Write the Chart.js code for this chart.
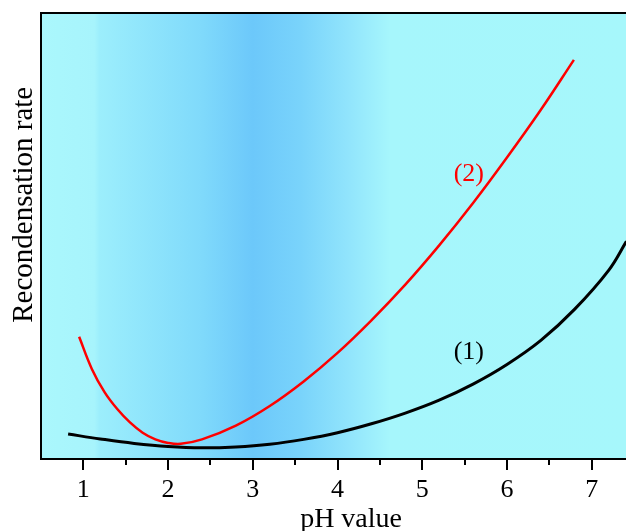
<!DOCTYPE html>
<html><head><meta charset="utf-8">
<script src="https://cdn.jsdelivr.net/npm/chart.js@4"></script>
<style>html,body{margin:0;padding:0;background:#fff;overflow:hidden}</style>
</head><body>
<canvas id="c" width="626" height="531"></canvas>
<script>
// ---- data ----
const phCurve1 = [0.82, 1.2, 1.6, 2.0, 2.4, 2.8, 3.2, 3.6, 4.0, 4.4, 4.8, 5.2, 5.6, 6.0, 6.4, 6.8, 7.2, 7.41];
const rateCurve1 = [5.6, 4.5, 3.5, 2.8, 2.5, 2.7, 3.3, 4.4, 5.9, 7.9, 10.3, 13.2, 16.8, 21.2, 26.6, 33.6, 42.3, 48.8];
const phCurve2 = [0.95, 1.1, 1.25, 1.4, 1.55, 1.7, 1.85, 2.0, 2.15, 2.4, 2.8, 3.2, 3.6, 4.0, 4.4, 4.8, 5.2, 5.6, 6.0, 6.4, 6.79];
const rateCurve2 = [27.4, 20.2, 15.0, 11.2, 8.2, 5.9, 4.4, 3.6, 3.4, 4.4, 7.5, 11.9, 17.4, 23.8, 31.1, 39.1, 47.9, 57.4, 67.6, 78.3, 89.5];
const xTickLabels = [1, 2, 3, 4, 5, 6, 7];
const curveLabels = ['(1)', '(2)'];
const xTitle = 'pH value';
const yTitle = 'Recondensation rate';

const FONT = '"Liberation Serif", "Times New Roman", serif';

const toPts = (xs, ys) => xs.map((x, i) => ({x, y: ys[i]}));

const decor = {
  id: 'decor',
  beforeDatasetsDraw(chart) {
    const {ctx, chartArea: a, scales: {x}} = chart;
    const g = ctx.createLinearGradient(a.left, 0, a.right, 0);
    const stops = [[0.5,'#aaf7fc'],[1.13,'#a7f4fc'],[1.19,'#9ceefc'],[2.38,'#80dafb'],[3.0,'#6cc8fa'],[3.56,'#79d3fb'],[4.15,'#92e5fc'],[4.62,'#a6f6fc'],[7.41,'#a6f7fb']];
    const w = a.right - a.left;
    stops.forEach(([v, c]) => {
      const f = Math.min(1, Math.max(0, (x.getPixelForValue(v) - a.left) / w));
      g.addColorStop(f, c);
    });
    ctx.save();
    ctx.fillStyle = g;
    ctx.fillRect(a.left, a.top, w, a.bottom - a.top);
    ctx.restore();
  },
  afterDraw(chart) {
    const {ctx, chartArea: a, scales: {x, y}} = chart;
    ctx.save();
    ctx.strokeStyle = '#000';
    ctx.lineWidth = 2;
    ctx.beginPath();
    ctx.moveTo(a.left, a.top); ctx.lineTo(chart.width, a.top);
    ctx.moveTo(a.left, a.top - 1); ctx.lineTo(a.left, a.bottom + 1);
    ctx.moveTo(a.left, a.bottom); ctx.lineTo(chart.width, a.bottom);
    ctx.stroke();
    // ticks
    ctx.beginPath();
    for (let v = 1; v <= 7.4; v += 0.5) {
      const px = Math.round(x.getPixelForValue(v));
      const len = Number.isInteger(v) ? 11 : 6;
      ctx.moveTo(px, a.bottom); ctx.lineTo(px, a.bottom + len);
    }
    ctx.stroke();
    // titles
    ctx.fillStyle = '#000';
    ctx.font = '28px ' + FONT;
    ctx.textAlign = 'center';
    ctx.textBaseline = 'alphabetic';
    ctx.fillText(xTitle, x.getPixelForValue(4.16), 527);
    ctx.save();
    ctx.font = '29px ' + FONT;
    ctx.translate(32, y.getPixelForValue(57.0));
    ctx.rotate(-Math.PI / 2);
    ctx.fillText(yTitle, 0, 0);
    ctx.restore();
    // curve labels
    ctx.font = '26px ' + FONT;
    ctx.textBaseline = 'middle';
    ctx.fillStyle = '#000';
    ctx.fillText(curveLabels[0], x.getPixelForValue(5.55), y.getPixelForValue(24.0));
    ctx.fillStyle = '#ff0000';
    ctx.fillText(curveLabels[1], x.getPixelForValue(5.55), y.getPixelForValue(63.8));
    ctx.restore();
  }
};

new Chart(document.getElementById('c'), {
  type: 'line',
  data: {
    datasets: [
      {data: toPts(phCurve1, rateCurve1), borderColor: '#000', borderWidth: 3, pointRadius: 0, tension: 0.4, fill: false},
      {data: toPts(phCurve2, rateCurve2), borderColor: '#ff0000', borderWidth: 2.5, pointRadius: 0, tension: 0.4, fill: false}
    ]
  },
  options: {
    responsive: false,
    animation: false,
    events: [],
    layout: {padding: {top: 13, right: 0, left: 0, bottom: 0}},
    plugins: {legend: {display: false}, tooltip: {enabled: false}},
    scales: {
      x: {
        type: 'linear', min: 0.5, max: 7.405,
        grid: {display: false, drawTicks: false},
        border: {display: false},
        afterBuildTicks(s) { s.ticks = xTickLabels.map(v => ({value: v})); },
        ticks: {color: '#000', font: {family: FONT, size: 26}, padding: 16, maxRotation: 0, autoSkip: false,
          callback: v => String(v)},
        afterFit(s) { s.height = 72; }
      },
      y: {
        type: 'linear', min: 0, max: 100,
        grid: {display: false, drawTicks: false},
        border: {display: false},
        ticks: {display: false},
        afterFit(s) { s.width = 41; }
      }
    }
  },
  plugins: [decor]
});
</script>
</body></html>
